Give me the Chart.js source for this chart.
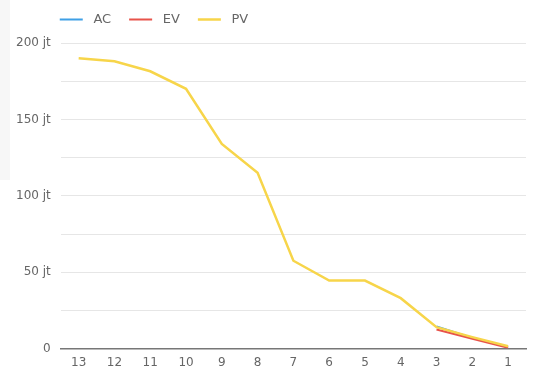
<!DOCTYPE html>
<html>
<head>
<meta charset="utf-8">
<script src="https://cdn.jsdelivr.net/npm/chart.js@4.4.0/dist/chart.umd.min.js"></script>
<style>
    html, body { margin: 0; padding: 0; background: #fff; }
    #wrap { position: relative; width: 533px; height: 370px; }
    #side { position: absolute; left: 0; top: 0; width: 10px; height: 180px; background: #f7f7f7; }
    #chart { position: absolute; left: 0; top: 0; }
</style>
</head>
<body>
<div id="wrap">
    <div id="side"></div>
    <canvas id="chart" width="533" height="370"></canvas>
</div>
<script>
// Periods (counting down)
const labels = ['13', '12', '11', '10', '9', '8', '7', '6', '5', '4', '3', '2', '1'];

// Values in juta (jt)
const acValues = [null, null, null, null, null, null, null, null, null, null, 14.5, 7, 1];
const evValues = [null, null, null, null, null, null, null, null, null, null, 12.5, 6.5, 0.5];
const pvValues = [190, 188, 181.5, 170, 134, 115, 57.5, 44.5, 44.5, 33, 14, 7.5, 1.5];

const fontFamily = '"DejaVu Sans", sans-serif';
Chart.defaults.font.family = fontFamily;
Chart.defaults.color = '#666';

// Push the legend a bit away from the plot and line it up with the plot's left edge
const legendSpacer = {
    id: 'legendSpacer',
    afterInit(chart) {
        const fit = chart.legend.fit;
        chart.legend.fit = function () {
            fit.call(this);
            this.height += 7;
        };
    },
    afterLayout(chart) {
        chart.legend.left = chart.chartArea.left - 19;
    },
};

const ctx = document.getElementById('chart');

new Chart(ctx, {
    type: 'line',
    data: {
        labels: labels,
        datasets: [
            {
                label: 'AC',
                data: acValues,
                borderColor: '#3fa0e6',
                backgroundColor: '#3fa0e6',
                borderWidth: 2,
                pointRadius: 0,
                fill: false,
                order: 3,
            },
            {
                label: 'EV',
                data: evValues,
                borderColor: '#e8534a',
                backgroundColor: '#e8534a',
                borderWidth: 2,
                pointRadius: 0,
                fill: false,
                order: 2,
            },
            {
                label: 'PV',
                data: pvValues,
                borderColor: '#f7d54a',
                backgroundColor: '#f7d54a',
                borderWidth: 2.5,
                pointRadius: 0,
                fill: false,
                order: 1,
            },
        ],
    },
    plugins: [legendSpacer],
    options: {
        responsive: false,
        animation: false,
        layout: {
            padding: { left: 6, right: 7, top: -5, bottom: -7 },
        },
        plugins: {
            legend: {
                display: true,
                position: 'top',
                align: 'start',
                fullSize: false,
                labels: {
                    usePointStyle: true,
                    pointStyle: 'line',
                    pointStyleWidth: 23,
                    padding: 18,
                    font: { size: 13 },
                    color: '#666',
                    sort: (a, b) => a.datasetIndex - b.datasetIndex,
                    generateLabels: function (chart) {
                        const items = Chart.defaults.plugins.legend.labels.generateLabels(chart);
                        items.forEach((item) => { item.text = ' ' + item.text; });
                        return items;
                    },
                },
            },
            tooltip: { enabled: false },
        },
        scales: {
            x: {
                offset: true,
                grid: { display: false, drawTicks: false },
                border: { color: '#777', width: 1.5 },
                ticks: { font: { size: 12 }, color: '#666', padding: 7 },
            },
            y: {
                min: 0,
                max: 200,
                grid: { color: '#e6e6e6', drawTicks: false },
                border: { display: false },
                ticks: {
                    stepSize: 25,
                    font: { size: 12 },
                    color: '#666',
                    padding: 10,
                    callback: function (value) {
                        if (value === 0) return '0';
                        if (value % 50 !== 0) return '';
                        return value + ' jt';
                    },
                },
            },
        },
    },
});
</script>
</body>
</html>
